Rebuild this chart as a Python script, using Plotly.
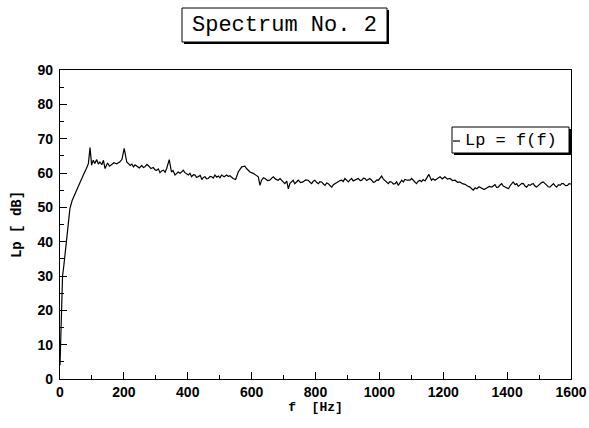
import plotly.graph_objects as go

freq_hz = [0, 2, 4, 6, 8, 12, 18, 25, 31, 38, 47, 55, 63, 73, 83, 89, 94, 99, 104, 109,
           115, 120, 125, 131, 136, 141, 149, 155, 161, 169, 177, 187, 194, 201, 209, 215,
           220, 225, 230, 235, 240, 248, 256, 261, 266, 272, 277, 285, 292, 298, 303, 308,
           313, 318, 324, 329, 334, 342, 349, 354, 360, 365, 370, 376, 381, 386, 391, 397,
           402, 407, 412, 418, 423, 428, 433, 439, 444, 449, 454, 459, 464, 470, 475, 480,
           485, 491, 496, 501, 506, 514, 522, 527, 532, 537, 542, 550, 558, 569, 579, 584,
           590, 595, 605, 613, 621, 626, 631, 637, 642, 650, 657, 663, 668, 675, 683, 689,
           694, 699, 704, 710, 715, 720, 725, 730, 735, 740, 746, 753, 761, 769, 777, 783,
           788, 793, 798, 804, 809, 814, 819, 825, 830, 835, 840, 846, 851, 856, 861, 866,
           871, 877, 882, 887, 892, 898, 903, 908, 913, 918, 924, 929, 934, 940, 945, 950,
           955, 960, 965, 970, 976, 981, 986, 992, 997, 1002, 1007, 1012, 1017, 1022, 1028,
           1033, 1038, 1044, 1049, 1054, 1059, 1065, 1070, 1075, 1080, 1088, 1096, 1101,
           1106, 1111, 1116, 1122, 1127, 1132, 1137, 1143, 1148, 1155, 1163, 1168, 1174,
           1182, 1190, 1197, 1205, 1213, 1221, 1229, 1237, 1245, 1252, 1260, 1268, 1276,
           1284, 1289, 1294, 1300, 1305, 1312, 1320, 1328, 1336, 1344, 1352, 1357, 1362,
           1367, 1372, 1378, 1383, 1388, 1393, 1398, 1404, 1411, 1419, 1425, 1430, 1435,
           1440, 1446, 1451, 1456, 1461, 1467, 1472, 1477, 1482, 1487, 1492, 1498, 1503,
           1508, 1513, 1519, 1524, 1529, 1534, 1540, 1545, 1550, 1555, 1561, 1566, 1571,
           1576, 1583, 1589, 1594, 1600]
level_db = [4, 12, 20, 27, 30, 33, 38, 45, 49.6, 52, 54, 55.5, 57.4, 59.4, 61.4, 62.8, 67.4,
            62.3, 63.7, 62.8, 63.9, 62.6, 63.2, 62.4, 63.7, 61.3, 62.9, 62.0, 62.4, 63.0,
            62.7, 63.2, 64.0, 67.2, 63.2, 62.5, 62.2, 62.6, 61.8, 62.4, 62.0, 61.5, 62.2,
            61.6, 61.8, 62.5, 62.1, 61.3, 61.6, 60.9, 60.8, 61.2, 60.1, 60.6, 60.8, 60.2,
            61.3, 63.9, 60.3, 60.7, 59.4, 60.0, 60.3, 59.9, 60.4, 60.8, 60.1, 59.6, 59.4,
            59.9, 58.9, 59.5, 59.4, 58.7, 58.9, 59.3, 58.1, 58.7, 58.9, 58.3, 58.4, 59.0,
            58.9, 58.5, 59.4, 58.8, 59.1, 58.6, 59.4, 58.9, 59.4, 59.0, 59.2, 58.8, 58.4,
            58.1, 60.3, 61.8, 62.0, 61.3, 60.8, 60.3, 59.9, 59.3, 58.9, 56.4, 57.9, 58.6,
            58.4, 57.8, 57.9, 58.5, 58.9, 58.2, 57.9, 58.4, 57.9, 57.3, 56.9, 57.6, 55.4,
            57.0, 57.4, 57.9, 56.9, 57.5, 57.9, 57.2, 57.4, 58.0, 57.9, 57.3, 56.9, 57.6,
            57.9, 57.2, 56.9, 57.5, 57.4, 56.8, 56.4, 57.1, 56.9, 56.3, 55.9, 56.6, 56.9,
            57.3, 57.4, 57.8, 57.9, 57.5, 58.4, 57.8, 57.4, 58.0, 58.4, 57.7, 57.9, 58.3,
            58.4, 57.8, 57.9, 58.5, 58.4, 57.8, 58.1, 58.4, 57.9, 57.3, 57.4, 58.0, 57.9,
            58.4, 59.1, 58.3, 57.9, 57.3, 56.9, 57.5, 57.4, 56.8, 56.9, 57.4, 56.4, 57.2,
            57.9, 57.4, 58.1, 57.9, 57.9, 58.4, 57.9, 57.3, 56.9, 57.6, 57.9, 57.5, 58.1,
            57.7, 58.4, 59.6, 57.9, 58.3, 57.9, 58.5, 58.9, 58.3, 58.9, 58.2, 58.4, 57.8,
            57.9, 57.3, 57.4, 56.9, 56.7, 56.2, 55.9, 55.4, 55.0, 55.7, 55.4, 56.0, 55.6,
            55.2, 55.6, 56.1, 55.9, 56.3, 56.6, 55.8, 55.9, 56.5, 56.9, 56.2, 55.9, 55.6,
            55.4, 56.5, 57.4, 56.6, 56.9, 56.1, 56.4, 57.0, 56.9, 56.2, 55.9, 56.6, 56.4,
            56.8, 56.9, 56.2, 55.9, 56.5, 56.9, 57.2, 57.4, 56.8, 56.4, 56.0, 55.9, 56.5,
            56.9, 56.3, 55.9, 56.6, 56.4, 56.9, 56.9, 56.3, 56.4, 56.9, 56.8]

title_text = "Spectrum No. 2"
legend_text = "Lp = f(f)"
x_title = "f  [Hz]"
y_title = "Lp [ dB]"
x_ticks = [0, 200, 400, 600, 800, 1000, 1200, 1400, 1600]
y_ticks = [0, 10, 20, 30, 40, 50, 60, 70, 80, 90]

W, H = 589, 428
L, R, T, B = 60, 18, 70, 49
pw, ph = W - L - R, H - T - B


def px(x):
    return (x - L) / pw


def py(y):
    return (H - B - y) / ph


fig = go.Figure()
fig.add_trace(go.Scatter(x=freq_hz, y=level_db, mode="lines",
                         line=dict(color="black", width=1.2), name=legend_text,
                         showlegend=False))

tickfont = dict(family="Liberation Sans, Arial, sans-serif", size=14, color="black",
                weight="bold")
axis_common = dict(showgrid=False, zeroline=False, showline=True, linecolor="black",
                   linewidth=1.2, mirror=True, ticks="inside", tickcolor="black",
                   tickwidth=1, ticklen=7, tickfont=tickfont, automargin=False)

fig.update_layout(
    width=W, height=H, margin=dict(l=L, r=R, t=T, b=B),
    paper_bgcolor="white", plot_bgcolor="white",
    xaxis=dict(range=[0, 1600], tickvals=x_ticks, **axis_common,
               minor=dict(dtick=100, ticks="inside", ticklen=4, tickcolor="black"),
               title=dict(text=x_title, standoff=2,
                          font=dict(family="Liberation Mono, Courier New, monospace",
                                    size=13, color="black", weight="bold"))),
    yaxis=dict(range=[0, 90], tickvals=y_ticks, **axis_common,
               minor=dict(dtick=5, ticks="inside", ticklen=4, tickcolor="black"),
               ticklabelstandoff=3,
               title=dict(text=y_title, standoff=12,
                          font=dict(family="Liberation Mono, Courier New, monospace",
                                    size=14, color="black", weight="bold"))),
    showlegend=False,
)

shapes = []
# title box with shadow
tx0, tx1, ty0, ty1 = 182, 387, 8, 42
shapes.append(dict(type="rect", xref="paper", yref="paper",
                   x0=px(tx0 + 2), x1=px(tx1 + 2), y0=py(ty1 + 2), y1=py(ty0 + 2),
                   fillcolor="black", line=dict(width=0)))
shapes.append(dict(type="rect", xref="paper", yref="paper",
                   x0=px(tx0), x1=px(tx1), y0=py(ty1), y1=py(ty0),
                   fillcolor="white", line=dict(color="black", width=1)))
# legend box with shadow
lx0, lx1, ly0, ly1 = 452, 569, 127, 153
shapes.append(dict(type="rect", xref="paper", yref="paper",
                   x0=px(lx0 + 2), x1=px(lx1 + 2), y0=py(ly1 + 2), y1=py(ly0 + 2),
                   fillcolor="black", line=dict(width=0)))
shapes.append(dict(type="rect", xref="paper", yref="paper",
                   x0=px(lx0), x1=px(lx1), y0=py(ly1), y1=py(ly0),
                   fillcolor="white", line=dict(color="black", width=1)))
shapes.append(dict(type="line", xref="paper", yref="paper",
                   x0=px(lx0 + 1), x1=px(lx0 + 8), y0=py(141), y1=py(141),
                   line=dict(color="black", width=1.2)))
fig.update_layout(shapes=shapes)

fig.add_annotation(xref="paper", yref="paper", x=px((tx0 + tx1) / 2), y=py((ty0 + ty1) / 2),
                   text=title_text, showarrow=False, xanchor="center", yanchor="middle",
                   font=dict(family="Liberation Mono, Courier New, monospace", size=22,
                             color="black"))
fig.add_annotation(xref="paper", yref="paper", x=px(lx0 + 11), y=py((ly0 + ly1) / 2),
                   text=legend_text, showarrow=False, xanchor="left", yanchor="middle",
                   font=dict(family="Liberation Mono, Courier New, monospace", size=17,
                             color="black"))

fig.write_html("out.html", config={"displayModeBar": False},
               post_script="document.body.style.margin='0';document.body.style.overflow='hidden';")
